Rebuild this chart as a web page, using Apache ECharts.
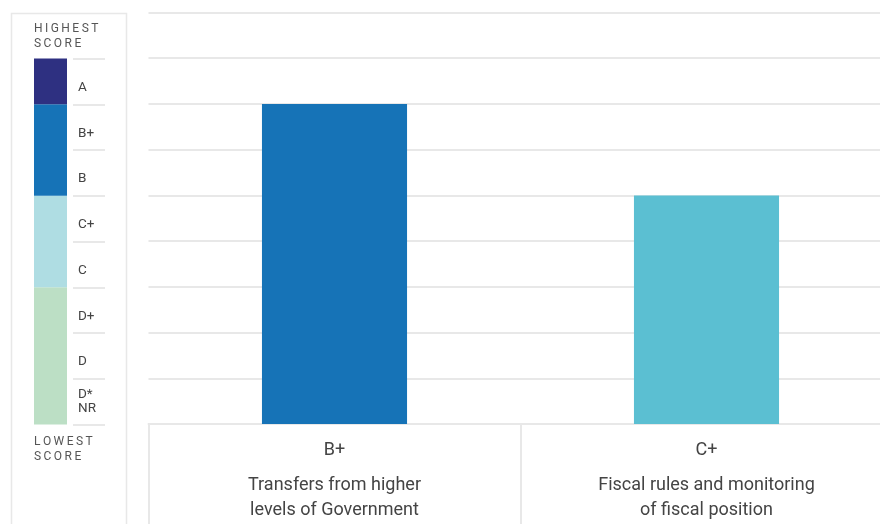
<!DOCTYPE html>
<html>
<head>
<meta charset="utf-8">
<script src="https://cdn.jsdelivr.net/npm/echarts@6/dist/echarts.min.js"></script>
<style>
  html, body { margin: 0; padding: 0; background: #fff; overflow: hidden; width: 880px; height: 524px; }
  /* the plot runs on past the right edge of the page, so the canvas is a little wider */
  #chart { width: 893px; height: 524px; }
</style>
</head>
<body>
<div id="chart"></div>
<script>
// Indicators and their scores on the grade scale (A = 8 ... D* / NR = 1)
const categories = [
  'Transfers from higher\nlevels of Government',
  'Fiscal rules and monitoring\nof fiscal position'
];
const scores = [7, 5];
const barColors = ['#1673b7', '#5bbfd2'];

// Grade name for each position on the scale
const gradeScale = ['', 'D*', 'D', 'D+', 'C', 'C+', 'B', 'B+', 'A'];

// Key column: grade rows (bottom to top) and colour bands
const keyGrades = ['D*\nNR', 'D', 'D+', 'C', 'C+', 'B', 'B+', 'A'];
const bandNames = ['D', 'C', 'B', 'A'];
const bandSizes = [3, 2, 2, 1];
const bandColors = ['#bcdfc5', '#afdde3', '#1673b7', '#2e3081'];

const FONT = 'Roboto, "Noto Sans", sans-serif';
const LINE = '#e8e8e8';
const TEXT = '#444';
const spaced = s => s.split('').join('\u2009');

const chart = echarts.init(document.getElementById('chart'), null, { renderer: 'canvas' });

const keySeries = bandNames.map((name, i) => ({
  name: name,
  type: 'bar',
  stack: 'key',
  xAxisIndex: 2,
  yAxisIndex: 2,
  barWidth: '100%',
  silent: true,
  itemStyle: { color: bandColors[i] },
  data: [bandSizes[i]]
}));

chart.setOption({
  animation: false,
  textStyle: { fontFamily: FONT },
  graphic: [
    {
      type: 'rect',
      shape: { x: 11.5, y: 13.5, width: 115, height: 600 },
      style: { fill: 'none', stroke: LINE, lineWidth: 1.5 },
      silent: true
    },
    {
      type: 'text', left: 34, top: 21,
      style: { text: spaced('HIGHEST') + '\n' + spaced('SCORE'), font: '12px ' + FONT, fill: '#555', lineHeight: 15 }
    },
    {
      type: 'text', left: 34, top: 434,
      style: { text: spaced('LOWEST') + '\n' + spaced('SCORE'), font: '12px ' + FONT, fill: '#555', lineHeight: 15 }
    }
  ],
  grid: [
    { left: 148.5, right: 0.5, top: 12.5, bottom: 100 },   // main bars
    { left: 148.5, right: 0.5, top: 424, bottom: 0 },      // label box dividers
    { left: 34, width: 33, top: 58.5, height: 366 },        // key colour bar
    { left: 73, width: 32, top: 58.5, height: 366 }         // key grade labels
  ],
  xAxis: [
    {
      type: 'category', gridIndex: 0, data: categories,
      axisLine: { show: true, lineStyle: { color: LINE, width: 2 } },
      axisTick: { show: false },
      axisLabel: {
        margin: 4,
        interval: 0,
        formatter: (v, idx) =>
          '{g|' + gradeScale[scores[idx]] + '}\n' +
          v.split('\n').map(l => '{n|' + l + '}').join('\n'),
        rich: {
          g: { fontSize: 18, lineHeight: 45, color: TEXT, fontFamily: FONT },
          n: { fontSize: 18, lineHeight: 25, color: TEXT, fontFamily: FONT }
        }
      }
    },
    {
      type: 'category', gridIndex: 1, data: categories, position: 'top',
      axisLine: { show: false }, axisTick: { show: false }, axisLabel: { show: false },
      splitLine: { show: true, lineStyle: { color: LINE, width: 2 } }
    },
    {
      type: 'category', gridIndex: 2, data: ['key'], show: false
    },
    {
      type: 'value', gridIndex: 3, show: false
    }
  ],
  yAxis: [
    {
      type: 'value', gridIndex: 0, min: 0, max: 9, interval: 1,
      axisLine: { show: false }, axisTick: { show: false }, axisLabel: { show: false },
      splitLine: { show: true, lineStyle: { color: LINE, width: 2 } }
    },
    {
      type: 'value', gridIndex: 1, show: false
    },
    {
      type: 'value', gridIndex: 2, min: 0, max: 8, show: false
    },
    {
      type: 'category', gridIndex: 3, data: keyGrades,
      axisLine: { show: false }, axisTick: { show: false },
      splitLine: { show: true, lineStyle: { color: LINE, width: 2 } },
      axisLabel: {
        inside: true, margin: 5, interval: 0,
        formatter: v => v.indexOf('\n') >= 0 ? '{m|' + v.replace('\n', '}\n{m|') + '}' : '{s|' + v + '}',
        rich: {
          s: { fontSize: 13.5, color: TEXT, padding: [12, 0, 0, 0], fontFamily: FONT },
          m: { fontSize: 13.5, color: TEXT, lineHeight: 14, fontFamily: FONT }
        }
      }
    }
  ],
  series: [
    {
      type: 'bar',
      xAxisIndex: 0,
      yAxisIndex: 0,
      barWidth: '39%',
      data: scores.map((v, i) => ({ value: v, itemStyle: { color: barColors[i] } }))
    },
    ...keySeries
  ]
});
</script>
</body>
</html>
